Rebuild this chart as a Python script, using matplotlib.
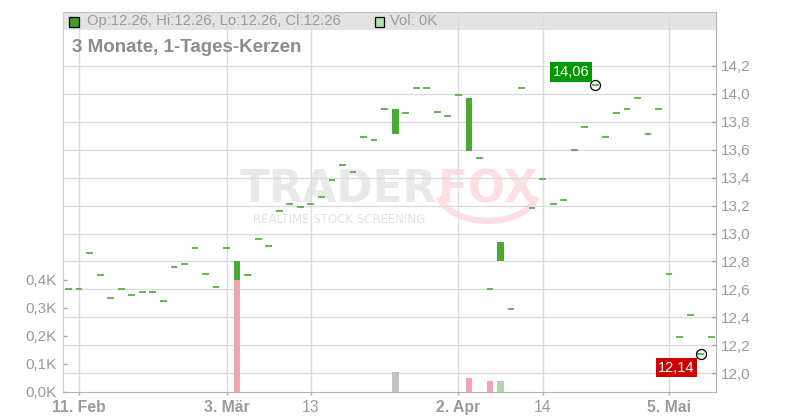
import matplotlib.pyplot as plt
from matplotlib.patches import Rectangle, Arc
from matplotlib.transforms import blended_transform_factory

plt.rcParams['font.family'] = ['Liberation Sans', 'DejaVu Sans']

# one entry per trading day (index 0 = 10 Feb)
opens = [12.60, 12.60, 12.86, 12.70, 12.54, 12.60, 12.56, 12.58, 12.58, 12.52,
         12.76, 12.78, 12.90, 12.71, 12.62, 12.90, 12.67, 12.70, 12.96, 12.91,
         13.16, 13.21, 13.19, 13.21, 13.26, 13.38, 13.49, 13.44, 13.69, 13.67,
         13.89, 13.71, 13.86, 14.04, 14.04, 13.87, 13.84, 13.99, 13.59, 13.54,
         12.60, 12.80, 12.46, 14.04, 13.18, 13.39, 13.21, 13.24, 13.60, 13.76,
         14.06, 13.69, 13.86, 13.89, 13.97, 13.71, 13.89, 12.71, 12.26, 12.42,
         12.14, 12.26]
closes = [12.60, 12.60, 12.86, 12.70, 12.54, 12.60, 12.56, 12.58, 12.58, 12.52,
          12.76, 12.78, 12.90, 12.71, 12.62, 12.90, 12.80, 12.70, 12.96, 12.91,
          13.16, 13.21, 13.19, 13.21, 13.26, 13.38, 13.49, 13.44, 13.69, 13.67,
          13.89, 13.89, 13.86, 14.04, 14.04, 13.87, 13.84, 13.99, 13.97, 13.54,
          12.60, 12.94, 12.46, 14.04, 13.18, 13.39, 13.21, 13.24, 13.60, 13.76,
          14.06, 13.69, 13.86, 13.89, 13.97, 13.71, 13.89, 12.71, 12.26, 12.42,
          12.14, 12.26]
# volume in thousand shares
volumes = [0, 0, 0, 0, 0, 0, 0, 0, 0, 0,
           0, 0, 0, 0, 0, 0, 0.40, 0, 0, 0,
           0, 0, 0, 0, 0, 0, 0, 0, 0, 0,
           0, 0.07, 0, 0, 0, 0, 0, 0, 0.05, 0,
           0.04, 0.04, 0, 0, 0, 0, 0, 0, 0, 0,
           0, 0, 0, 0, 0, 0, 0, 0, 0, 0,
           0, 0]

tick_pos = [1, 15, 23, 37, 45, 57]
tick_labels = ["11. Feb", "3. Mär", "13", "2. Apr", "14", "5. Mai"]
tick_bold = [True, True, False, True, False, True]
price_ticks = [12.0, 12.2, 12.4, 12.6, 12.8, 13.0, 13.2, 13.4, 13.6, 13.8, 14.0, 14.2]
vol_ticks = [0.0, 0.1, 0.2, 0.3, 0.4]

GREEN = '#4aab33'
GRID = '#dcdcdc'
LABEL = '#9a9a9a'


def de(v, d=2):
    """German number format."""
    return f"{v:.{d}f}".replace('.', ',')


def px(x, y):
    """Pixel position (from top left) to figure fraction."""
    return x / 800, 1 - y / 420


fig = plt.figure(figsize=(8, 4.2), dpi=100)
ax_v = fig.add_axes([0.0791, 0.0667, 0.8165, 0.9055])
ax_p = ax_v.twinx()

n = len(closes)
ax_v.set_xlim(-0.5, n - 0.5)
ax_v.set_ylim(0, 1.358)
ax_p.set_ylim(11.866, 14.588)

# header bar
ax_v.add_patch(Rectangle((0, 0.952), 1, 0.048, transform=ax_v.transAxes,
                         facecolor='#e3e3e3', edgecolor='none', zorder=0.2))

# watermark, below grid and marks
ft = fig.transFigure
ax_v.text(*px(240, 190), 'TRADER', transform=ft, fontsize=31.5, fontweight='bold',
          family='DejaVu Sans', color='#e9e9e9', ha='left', va='center', zorder=0.3)
ax_v.text(*px(438, 190), 'FOX', transform=ft, fontsize=31.5, fontweight='bold',
          family='DejaVu Sans', color='#fddfe3', ha='left', va='center', zorder=0.3)
ax_v.text(*px(339, 219), 'REALTIME STOCK SCREENING', transform=ft, fontsize=8.5,
          family='DejaVu Sans', color='#e2e2e2', ha='center', va='center', zorder=0.3)
ax_v.add_patch(Arc(px(488, 190), 100 / 800, 62 / 420, theta1=195, theta2=345,
                   transform=ft, color='#fddfe3', lw=4.5, zorder=0.3))

# grid (drawn on the volume axes so the bars sit on top)
for t in tick_pos:
    ax_v.axvline(t, color=GRID, lw=1, zorder=0.5)
trans = blended_transform_factory(ax_v.transAxes, ax_p.transData)
for p in price_ticks:
    ax_v.plot([0, 1], [p, p], transform=trans, color=GRID, lw=1, zorder=0.5)

# volume bars, coloured by change vs previous close
vol_colors = []
for i in range(n):
    prev = closes[i - 1] if i > 0 else closes[i]
    if closes[i] > prev:
        vol_colors.append('#a9dca2')
    elif closes[i] < prev:
        vol_colors.append('#eea5ae')
    else:
        vol_colors.append('#c2c2c2')
ax_v.bar(range(n), volumes, width=0.64, color=vol_colors, zorder=2)

# candles
for i in range(n):
    o, c = opens[i], closes[i]
    if abs(c - o) < 1e-9:
        ax_p.hlines(c, i - 0.32, i + 0.32, color=GREEN, lw=1.2, zorder=3)
    else:
        ax_p.bar(i, abs(c - o), bottom=min(o, c), width=0.64, color=GREEN, zorder=3)

# high / low markers
hi = max(range(n), key=lambda i: closes[i])
lo = min(range(n), key=lambda i: closes[i])
for idx, col, dy in [(hi, '#009a00', 9.6), (lo, '#cc0000', -10.0)]:
    ax_p.plot(idx, closes[idx], 'o', ms=7.2, mfc='none', mec='black', mew=0.9, zorder=4)
    ax_p.annotate(de(closes[idx]), (idx, closes[idx]), xytext=(-17.4, dy),
                  textcoords='offset points', ha='center', va='center',
                  fontsize=10.5, color='white', zorder=5,
                  bbox=dict(boxstyle='square,pad=0.18', fc=col, ec='none'))

# axes styling
ax_v.set_xticks(tick_pos)
ax_v.set_xticklabels(tick_labels)
for lab, b in zip(ax_v.get_xticklabels(), tick_bold):
    lab.set_fontweight('bold' if b else 'normal')
ax_v.set_yticks(vol_ticks)
ax_v.set_yticklabels([de(v, 1) + 'K' for v in vol_ticks])
ax_p.set_yticks(price_ticks)
ax_p.set_yticklabels([de(p, 1) for p in price_ticks])

ax_v.tick_params(axis='x', direction='out', length=2.5, width=1, color='#b0b0b0',
                 pad=3.5, labelsize=11.3, labelcolor=LABEL)
ax_v.tick_params(axis='y', direction='in', length=3, width=1, color='#a0a0a0',
                 pad=4.5, labelsize=11, labelcolor=LABEL)
ax_p.tick_params(axis='y', direction='in', length=3, width=1, color='#a0a0a0',
                 pad=3, labelsize=11, labelcolor=LABEL)

for sp in ax_v.spines.values():
    sp.set_visible(False)
ax_p.spines['left'].set_color('#cfcfcf')
ax_p.spines['top'].set_color('#c4c4c4')
ax_p.spines['right'].set_color('#b4b4b4')
ax_p.spines['bottom'].set_color('#b4b4b4')

# header texts
fig.add_artist(Rectangle(px(69, 26.5), 9.5 / 800, 9.5 / 420,
                         transform=ft, fc='#3ea02a', ec='black', lw=0.9))
fig.text(*px(87, 21), 'Op:12.26, Hi:12.26, Lo:12.26, Cl:12.26',
         fontsize=10.6, color=LABEL, va='center', ha='left')
fig.add_artist(Rectangle(px(374.5, 26.5), 9.5 / 800, 9.5 / 420,
                         transform=ft, fc='#b0e0b0', ec='black', lw=0.9))
fig.text(*px(390, 21), 'Vol: 0K', fontsize=10.6, color=LABEL, va='center', ha='left')
fig.text(*px(72, 47), '3 Monate, 1-Tages-Kerzen', fontsize=13.5,
         fontweight='bold', color='#8c8c8c', va='center', ha='left')

fig.savefig('out.png', dpi=100)
